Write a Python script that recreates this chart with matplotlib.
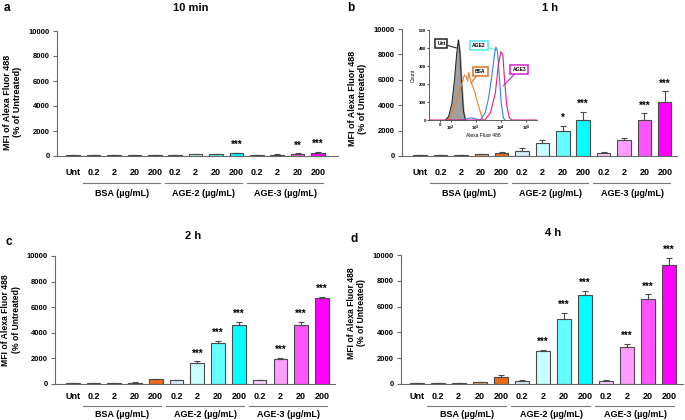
import matplotlib
matplotlib.use("Agg")
import matplotlib.pyplot as plt
import matplotlib.transforms as mtransforms

plt.rcParams['font.family'] = ['Liberation Sans', 'DejaVu Sans']
plt.rcParams['font.weight'] = 'bold'

# ---------------- data ----------------
categories = ['Unt', '0.2', '2', '20', '200', '0.2', '2', '20', '200', '0.2', '2', '20', '200']
groups = ['BSA (µg/mL)', 'AGE-2 (µg/mL)', 'AGE-3 (µg/mL)']
group_members = [[1, 2, 3, 4], [5, 6, 7, 8], [9, 10, 11, 12]]
bar_colors = ['#a6a6a6', '#f9d9c0', '#f6c39a', '#f2a468', '#ee6a1a',
              '#d6eef8', '#c8ffff', '#66ffff', '#00ffff',
              '#ffd0ff', '#ff9cff', '#ff55ff', '#ff00ff']
yticks = [0, 2000, 4000, 6000, 8000, 10000]

mfi_10min = [100, 90, 90, 90, 90, 90, 130, 170, 240, 80, 120, 190, 280]
err_10min = [10, 10, 10, 10, 10, 10, 20, 20, 40, 10, 20, 30, 60]
stars_10min = ['', '', '', '', '', '', '', '', '***', '', '', '**', '***']

mfi_1h = [100, 80, 80, 130, 250, 420, 1050, 1970, 2840, 210, 1240, 2840, 4260]
err_1h = [10, 10, 10, 20, 30, 180, 210, 400, 630, 100, 180, 530, 820]
stars_1h = ['', '', '', '', '', '', '', '*', '***', '', '', '***', '***']

mfi_2h = [70, 70, 70, 100, 370, 290, 1640, 3190, 4640, 290, 1950, 4640, 6680]
err_2h = [10, 10, 10, 20, 40, 20, 130, 160, 220, 20, 80, 240, 150]
stars_2h = ['', '', '', '', '', '', '***', '***', '***', '', '***', '***', '***']

mfi_4h = [80, 80, 80, 130, 540, 230, 2550, 5060, 6890, 230, 2830, 6560, 9200]
err_4h = [10, 10, 10, 20, 180, 80, 120, 440, 330, 100, 280, 380, 590]
stars_4h = ['', '', '', '', '', '', '***', '***', '***', '', '***', '***', '***']

# inset histogram (flow cytometry, 1 h)
hist_unt_x = [50, 80, 110, 140, 170, 200, 230, 270, 320, 380]
hist_unt_y = [0, 20, 90, 220, 360, 445, 380, 200, 50, 0]
hist_bsa_x = [70, 100, 130, 200, 275, 350, 420, 470, 520, 600, 690, 800, 940, 1100, 1280, 1600, 2000]
hist_bsa_y = [0, 20, 60, 140, 200, 250, 240, 215, 265, 225, 200, 175, 150, 110, 80, 30, 0]
hist_age2_x = [200, 400, 600, 900, 1200, 1500, 2350, 3200, 4400, 5600, 6300, 7300, 8500, 10200, 12600, 15000]
hist_age2_y = [0, 5, 12, 8, 2, 0, 40, 120, 250, 370, 405, 380, 260, 100, 10, 0]
hist_age3_x = [-100, 2300, 3800, 6000, 7800, 10000, 12000, 13500, 17000, 22000, 29000, 262144]
hist_age3_y = [0, 0, 40, 150, 300, 380, 360, 250, 80, 10, 0, 0]

W, H = 685, 420
fig = plt.figure(figsize=(W / 100, H / 100), dpi=100)


def rect(left, right, top, bottom):
    return [left / W, 1 - bottom / H, (right - left) / W, (bottom - top) / H]


panels = [
    dict(r=rect(56.7, 338, 31, 156), xlim=(-0.81, 12.98), v=mfi_10min, e=err_10min, s=stars_10min,
         title='10 min', tpos=(191, 8), letter='a', lpos=(4, 8), ylab_y=0.43, fs_lab=6.5,
         tickpad=8.5, line_off=27, lab_off=37),
    dict(r=rect(401.7, 677, 29, 156), xlim=(-0.9, 12.6), v=mfi_1h, e=err_1h, s=stars_1h,
         title='1 h', tpos=(550, 8), letter='b', lpos=(347, 8), ylab_y=0.45, fs_lab=6.5,
         tickpad=8.5, line_off=27, lab_off=37),
    dict(r=rect(55, 335, 256, 384), xlim=(-0.85, 12.63), v=mfi_2h, e=err_2h, s=stars_2h,
         title='2 h', tpos=(193, 236), letter='c', lpos=(5, 242), ylab_y=0.5, fs_lab=6.2,
         tickpad=6, line_off=22, lab_off=30.5),
    dict(r=rect(400.7, 683, 255, 384), xlim=(-0.76, 12.67), v=mfi_4h, e=err_4h, s=stars_4h,
         title='4 h', tpos=(553, 233), letter='d', lpos=(350, 239), ylab_y=0.55, fs_lab=6.2,
         tickpad=6, line_off=22, lab_off=30.5),
]

edge = '#4a4a4a'
spine_c = '#6a6a6a'

for p in panels:
    ax = fig.add_axes(p['r'])
    x = list(range(len(categories)))
    ax.bar(x, p['v'], width=0.66, color=bar_colors, edgecolor=edge, linewidth=0.8, zorder=2)
    ax.errorbar(x, p['v'], yerr=[[0] * len(x), p['e']], fmt='none', ecolor=edge,
                elinewidth=0.8, capsize=2.5, capthick=0.8, zorder=3)
    for xi, val, er, st in zip(x, p['v'], p['e'], p['s']):
        if st:
            ax.annotate(st, (xi, val + er), xytext=(0, 2), textcoords='offset points',
                        ha='center', va='bottom', fontsize=7, fontweight='bold', annotation_clip=False)
    ax.set_xlim(*p['xlim'])
    ax.set_ylim(0, 10000)
    for side in ['top', 'right']:
        ax.spines[side].set_visible(False)
    ax.spines['left'].set_color(spine_c)
    ax.spines['bottom'].set_color(spine_c)
    ax.spines['left'].set_linewidth(0.8)
    ax.spines['bottom'].set_linewidth(0.8)
    ax.set_yticks(yticks)
    ax.set_yticklabels([str(t) for t in yticks], fontsize=5.5, fontweight='bold')
    ax.tick_params(axis='y', direction='out', length=3, width=0.8, color=spine_c, pad=2)
    ax.set_xticks(x)
    ax.set_xticklabels(categories, fontsize=6.5, fontweight='bold')
    ax.tick_params(axis='x', length=0, pad=p['tickpad'])

    axw = p['r'][2] * W
    ax.text(-44 / axw, p['ylab_y'], 'MFI of Alexa Fluor 488\n(% of Untreated)', transform=ax.transAxes,
            rotation=90, ha='center', va='center', multialignment='center',
            fontsize=p['fs_lab'], fontweight='bold')

    base = mtransforms.blended_transform_factory(ax.transData, ax.transAxes)
    line_tr = base + mtransforms.ScaledTranslation(0, -p['line_off'] / 100, fig.dpi_scale_trans)
    lab_tr = base + mtransforms.ScaledTranslation(0, -p['lab_off'] / 100, fig.dpi_scale_trans)
    for g, mem in zip(groups, group_members):
        ax.plot([mem[0] - 0.5, mem[-1] + 0.25], [0, 0], color='#777777', lw=0.8,
                transform=line_tr, clip_on=False)
        ax.text((mem[0] + mem[-1]) / 2 - 0.1, 0, g, transform=lab_tr, ha='center', va='center',
                fontsize=6.5, fontweight='bold')

    fig.text(p['tpos'][0] / W, 1 - p['tpos'][1] / H, p['title'], ha='center', va='center',
             fontsize=8, fontweight='bold')
    fig.text(p['lpos'][0] / W, 1 - p['lpos'][1] / H, p['letter'], ha='left', va='center',
             fontsize=8.5, fontweight='bold')

# ---------------- inset ----------------
ins = fig.add_axes(rect(429.3, 536.5, 30, 120))
ins.set_xscale('symlog', linthresh=100, linscale=0.385)
ins.set_xlim(-100, 262144)
ins.set_ylim(0, 500)
ins.fill_between(hist_unt_x, hist_unt_y, color='#a0a0a0', zorder=1)
ins.plot(hist_unt_x, hist_unt_y, color='#222222', lw=0.7, zorder=2)
ins.plot(hist_bsa_x, hist_bsa_y, color='#f07d2a', lw=0.8, zorder=3)
ins.plot(hist_age2_x, hist_age2_y, color='#3a7fe0', lw=0.8, zorder=3)
ins.plot(hist_age3_x, hist_age3_y, color='#e0207f', lw=0.8, zorder=4)
for side in ['top', 'right']:
    ins.spines[side].set_visible(False)
for side in ['left', 'bottom']:
    ins.spines[side].set_color('#444444')
    ins.spines[side].set_linewidth(0.6)
ins.set_yticks([0, 100, 200, 300, 400, 500])
ins.set_yticklabels(['0', '100', '200', '300', '400', '500'], fontsize=3.2)
ins.set_xticks([0, 100, 1000, 10000, 100000])
ins.set_xticklabels(['0', '10$^2$', '10$^3$', '10$^4$', '10$^5$'], fontsize=3.2)
ins.xaxis.set_minor_locator(matplotlib.ticker.NullLocator())
ins.tick_params(length=1.5, width=0.5, pad=1)
ins.set_ylabel('Count', fontsize=3.5, labelpad=2)
ins.set_xlabel('Alexa Fluor 488', fontsize=3.5, labelpad=0.5)

box_labels = [('Unt', (12, 425), (170, 400), '#222222'),
              ('AGE2', (1350, 415), (5500, 392), '#55e5ee'),
              ('BSA', (1500, 272), (650, 205), '#e0701e'),
              ('AGE3', (54000, 283), (12500, 190), '#d020c8')]
for txt, tpos, apos, col in box_labels:
    ins.annotate(txt, xy=apos, xytext=tpos, fontsize=3.6, fontweight='bold', ha='center', va='center',
                 bbox=dict(boxstyle='square,pad=0.4', fc='white', ec=col, lw=1.1),
                 arrowprops=dict(arrowstyle='-', color=col, lw=0.8, shrinkA=0, shrinkB=0))

fig.savefig('out.png', dpi=100)
